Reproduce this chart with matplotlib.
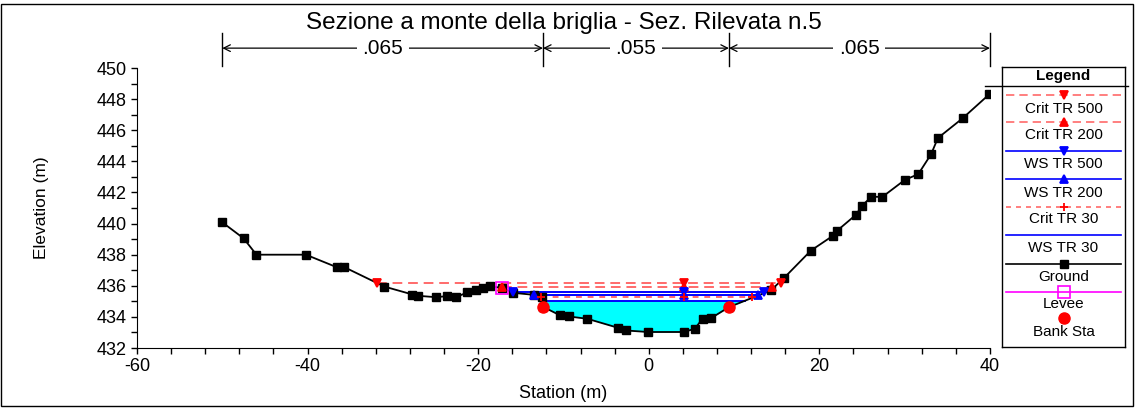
import matplotlib
matplotlib.use("Agg")
import matplotlib.pyplot as plt
import matplotlib.transforms as mtransforms
from matplotlib.patches import Rectangle
import numpy as np

plt.rcParams['font.family'] = ['Liberation Sans', 'DejaVu Sans']
plt.rcParams['axes.unicode_minus'] = False

# ground profile (station m, elevation m)
ground_x = [-50.0, -47.5, -46.0, -40.2, -36.6, -35.7, -31.0, -27.7, -27.1, -25.0,
            -23.7, -22.6, -21.3, -20.3, -19.4, -18.6, -17.2, -15.9, -13.5, -12.5,
            -12.4, -10.4, -9.4, -7.2, -3.6, -2.7, -0.1, 4.1, 5.4, 6.3,
            7.3, 9.4, 14.3, 15.85, 19.0, 21.6, 22.1, 24.3, 25.0, 26.1,
            27.4, 30.0, 31.6, 33.1, 33.9, 36.8, 39.9]
ground_z = [440.08, 439.05, 438.0, 438.0, 437.2, 437.2, 435.95, 435.44, 435.36, 435.27,
            435.33, 435.27, 435.57, 435.76, 435.85, 435.96, 435.87, 435.55, 435.42, 435.3,
            434.65, 434.1, 434.03, 433.88, 433.3, 433.13, 433.03, 433.03, 433.24, 433.88,
            433.92, 434.63, 435.7, 436.5, 438.26, 439.22, 439.55, 440.57, 441.15, 441.72,
            441.72, 442.8, 443.18, 444.46, 445.5, 446.77, 448.3]

# water surfaces: elevation, left and right station, station of middle marker
profiles = ["Crit TR 500", "Crit TR 200", "WS TR 500", "WS TR 200", "Crit TR 30", "WS TR 30"]
ws_elev = [436.17, 435.90, 435.59, 435.44, 435.31, 435.05]
ws_left = [-31.9, -17.2, -15.9, -13.5, -12.6, -12.45]
ws_right = [15.5, 14.5, 13.5, 12.8, 12.1, 11.3]
ws_mid = 4.1

levee_x, levee_z = -17.2, 435.87
bank_x = [-12.4, 9.4]
bank_z = [434.65, 434.63]

# Manning n zones
n_bounds = [-50.0, -12.4, 9.4, 40.0]
n_values = [".065", ".055", ".065"]

styles = {
    "Crit TR 500": dict(color="#ff6a6a", ls=(0, (5, 3)), marker="v", mc="red"),
    "Crit TR 200": dict(color="#ff6a6a", ls=(0, (5, 3)), marker="^", mc="red"),
    "WS TR 500": dict(color="blue", ls="-", marker="v", mc="blue"),
    "WS TR 200": dict(color="blue", ls="-", marker="^", mc="blue"),
    "Crit TR 30": dict(color="#ff6a6a", ls=(0, (3, 3)), marker="+", mc="red"),
    "WS TR 30": dict(color="blue", ls="-", marker=None, mc="blue"),
}

fig = plt.figure(figsize=(11.35, 4.08), dpi=100)
ax = fig.add_axes([0.1207, 0.147, 0.7515, 0.6863])

gx = np.array(ground_x)
gz = np.array(ground_z)

# water below the lowest surface
i30 = profiles.index("WS TR 30")
xf = np.linspace(ws_left[i30], ws_right[i30], 400)
zf = np.interp(xf, gx, gz)
ax.fill_between(xf, zf, ws_elev[i30], where=zf < ws_elev[i30], color="#00ffff", lw=0, zorder=1)

for name, z, xl, xr in zip(profiles, ws_elev, ws_left, ws_right):
    st = styles[name]
    ax.plot([xl, xr], [z, z], color=st["color"], ls=st["ls"], lw=1.4, zorder=2)
    if st["marker"]:
        ax.plot([xl, ws_mid, xr], [z, z, z], ls="none", marker=st["marker"],
                color=st["mc"], ms=6, mew=1.3, zorder=4)

ax.plot(gx, gz, color="black", lw=1.3, marker="s", ms=6, zorder=3)
ax.plot([levee_x], [levee_z], ls="none", marker="s", ms=9, mfc="none",
        mec="magenta", mew=1.2, zorder=5)
ax.plot(bank_x, bank_z, ls="none", marker="o", color="red", ms=8, zorder=5)

ax.set_xlim(-60, 40)
ax.set_ylim(432, 450)
ax.set_xticks(np.arange(-60, 41, 20))
ax.set_xticks(np.arange(-60, 41, 4), minor=True)
ax.set_yticks(np.arange(432, 451, 2))
ax.set_yticks(np.arange(432, 451, 1), minor=True)
ax.tick_params(which="both", direction="out", length=4.5, width=1, labelsize=13, pad=3)
for s in ["top", "right"]:
    ax.spines[s].set_visible(False)
ax.set_xlabel("Station (m)", fontsize=13, labelpad=7)
ax.set_ylabel("Elevation (m)", fontsize=12.5, labelpad=34)

ax.text(0.5, 1.162, "Sezione a monte della briglia - Sez. Rilevata n.5", transform=ax.transAxes,
        ha="center", va="center", fontsize=17.5)

# roughness zones above the plot
tr = mtransforms.blended_transform_factory(ax.transData, ax.transAxes)
for b in n_bounds:
    ax.plot([b, b], [1.007, 1.125], transform=tr, color="black", lw=1, clip_on=False)
for a, b, n in zip(n_bounds[:-1], n_bounds[1:], n_values):
    ax.annotate("", xy=(a, 1.071), xytext=(b, 1.071), xycoords=tr, textcoords=tr,
                arrowprops=dict(arrowstyle="<->", lw=0.9, color="black",
                                shrinkA=0, shrinkB=0, mutation_scale=12))
    ax.text((a + b) / 2, 1.071, n, transform=tr, ha="center", va="center", fontsize=15,
            bbox=dict(facecolor="white", edgecolor="none", pad=4))

# legend panel
lax = fig.add_axes([1002 / 1135, 1 - 347 / 408, 123 / 1135, 280 / 408])
lax.set_xlim(0, 123)
lax.set_ylim(280, 0)
lax.set_xticks([])
lax.set_yticks([])
for s in lax.spines.values():
    s.set_linewidth(1)
lax.text(61.5, 13, "Legend", ha="center", va="baseline", fontsize=11, fontweight="bold")
fig.add_artist(plt.Line2D([985 / 1135, 1128 / 1135], [1 - 86 / 408, 1 - 86 / 408],
                          color="black", lw=1))

entry_names = profiles + ["Ground", "Levee", "Bank Sta"]
line_y = [28, 55, 84, 112, 140, 168, 197, 225, 251]
text_base = [46, 72, 101, 130, 156, 185, 214, 241, 269]
for name, ly, ty in zip(entry_names, line_y, text_base):
    if name in styles:
        st = styles[name]
        lax.plot([4, 119], [ly, ly], color=st["color"], ls=st["ls"], lw=1.2)
        if st["marker"]:
            lax.plot([61.5], [ly], ls="none", marker=st["marker"], color=st["mc"], ms=6, mew=1.3)
    elif name == "Ground":
        lax.plot([4, 119], [ly, ly], color="black", lw=1.2)
        lax.plot([61.5], [ly], ls="none", marker="s", color="black", ms=6)
    elif name == "Levee":
        lax.plot([4, 119], [ly, ly], color="magenta", lw=1.2)
        lax.plot([61.5], [ly], ls="none", marker="s", ms=9, mfc="none", mec="magenta", mew=1.2)
    else:
        lax.plot([61.5], [ly], ls="none", marker="o", color="red", ms=8)
    lax.text(61.5, ty, name, ha="center", va="baseline", fontsize=11)

# outer frame
fig.patches.append(Rectangle((0.001, 0.006), 0.997, 0.984, transform=fig.transFigure,
                             fill=False, edgecolor="black", lw=1))

fig.savefig("out.png", dpi=100)
